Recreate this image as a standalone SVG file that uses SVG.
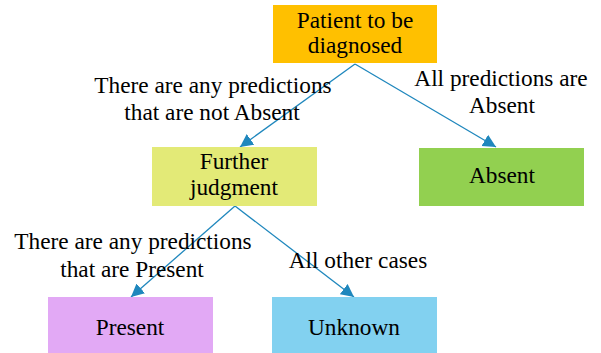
<svg xmlns="http://www.w3.org/2000/svg" width="601" height="353" viewBox="0 0 601 353">
<defs>
<marker id="a" markerUnits="userSpaceOnUse" markerWidth="14" markerHeight="14" viewBox="0 0 14 14" refX="13" refY="7" orient="auto">
<path d="M0,0.5 L13,7 L0,13.5 Z" fill="#1F87BD"/>
</marker>
</defs>
<rect width="601" height="353" fill="#fff"/>
<g id="connectors" stroke="#1F87BD" stroke-width="1.3" fill="none" marker-end="url(#a)">
<line x1="355" y1="64" x2="240" y2="147"/>
<line x1="355" y1="64" x2="496" y2="147"/>
<line x1="235" y1="206" x2="131" y2="297"/>
<line x1="235" y1="206" x2="354" y2="297"/>
</g>
<g id="labels">
<text x="213" y="93" style="font-family:'Liberation Serif',serif !important;font-size:23.3px;text-anchor:middle">There are any predictions</text>
<text x="212" y="120" style="font-family:'Liberation Serif',serif !important;font-size:23.3px;text-anchor:middle">that are not Absent</text>
<text x="501" y="86" style="font-family:'Liberation Serif',serif !important;font-size:23.3px;text-anchor:middle">All predictions are</text>
<text x="502" y="113" style="font-family:'Liberation Serif',serif !important;font-size:23.3px;text-anchor:middle">Absent</text>
<text x="133" y="249" style="font-family:'Liberation Serif',serif !important;font-size:23.3px;text-anchor:middle">There are any predictions</text>
<text x="132" y="277" style="font-family:'Liberation Serif',serif !important;font-size:23.3px;text-anchor:middle">that are Present</text>
<text x="358" y="268" style="font-family:'Liberation Serif',serif !important;font-size:23.3px;text-anchor:middle">All other cases</text>
</g>
<g id="patient">
<rect x="273" y="5" width="164" height="58" fill="#FFC000"/>
<text x="355" y="28" style="font-family:'Liberation Serif',serif !important;font-size:23.3px;text-anchor:middle">Patient to be</text>
<text x="355" y="53" style="font-family:'Liberation Serif',serif !important;font-size:23.3px;text-anchor:middle">diagnosed</text>
</g>
<g id="further">
<rect x="152" y="147" width="165" height="59" fill="#E3EA77"/>
<text x="234" y="169" style="font-family:'Liberation Serif',serif !important;font-size:23.3px;text-anchor:middle">Further</text>
<text x="234" y="195" style="font-family:'Liberation Serif',serif !important;font-size:23.3px;text-anchor:middle">judgment</text>
</g>
<g id="absent">
<rect x="419" y="148" width="165" height="58" fill="#92D050"/>
<text x="502" y="183" style="font-family:'Liberation Serif',serif !important;font-size:23.3px;text-anchor:middle">Absent</text>
</g>
<g id="present">
<rect x="48" y="297" width="165" height="56" fill="#E2A9F5"/>
<text x="130" y="335" style="font-family:'Liberation Serif',serif !important;font-size:23.3px;text-anchor:middle">Present</text>
</g>
<g id="unknown">
<rect x="272" y="297" width="165" height="56" fill="#82D1F0"/>
<text x="354" y="335" style="font-family:'Liberation Serif',serif !important;font-size:23.3px;text-anchor:middle">Unknown</text>
</g>
</svg>
